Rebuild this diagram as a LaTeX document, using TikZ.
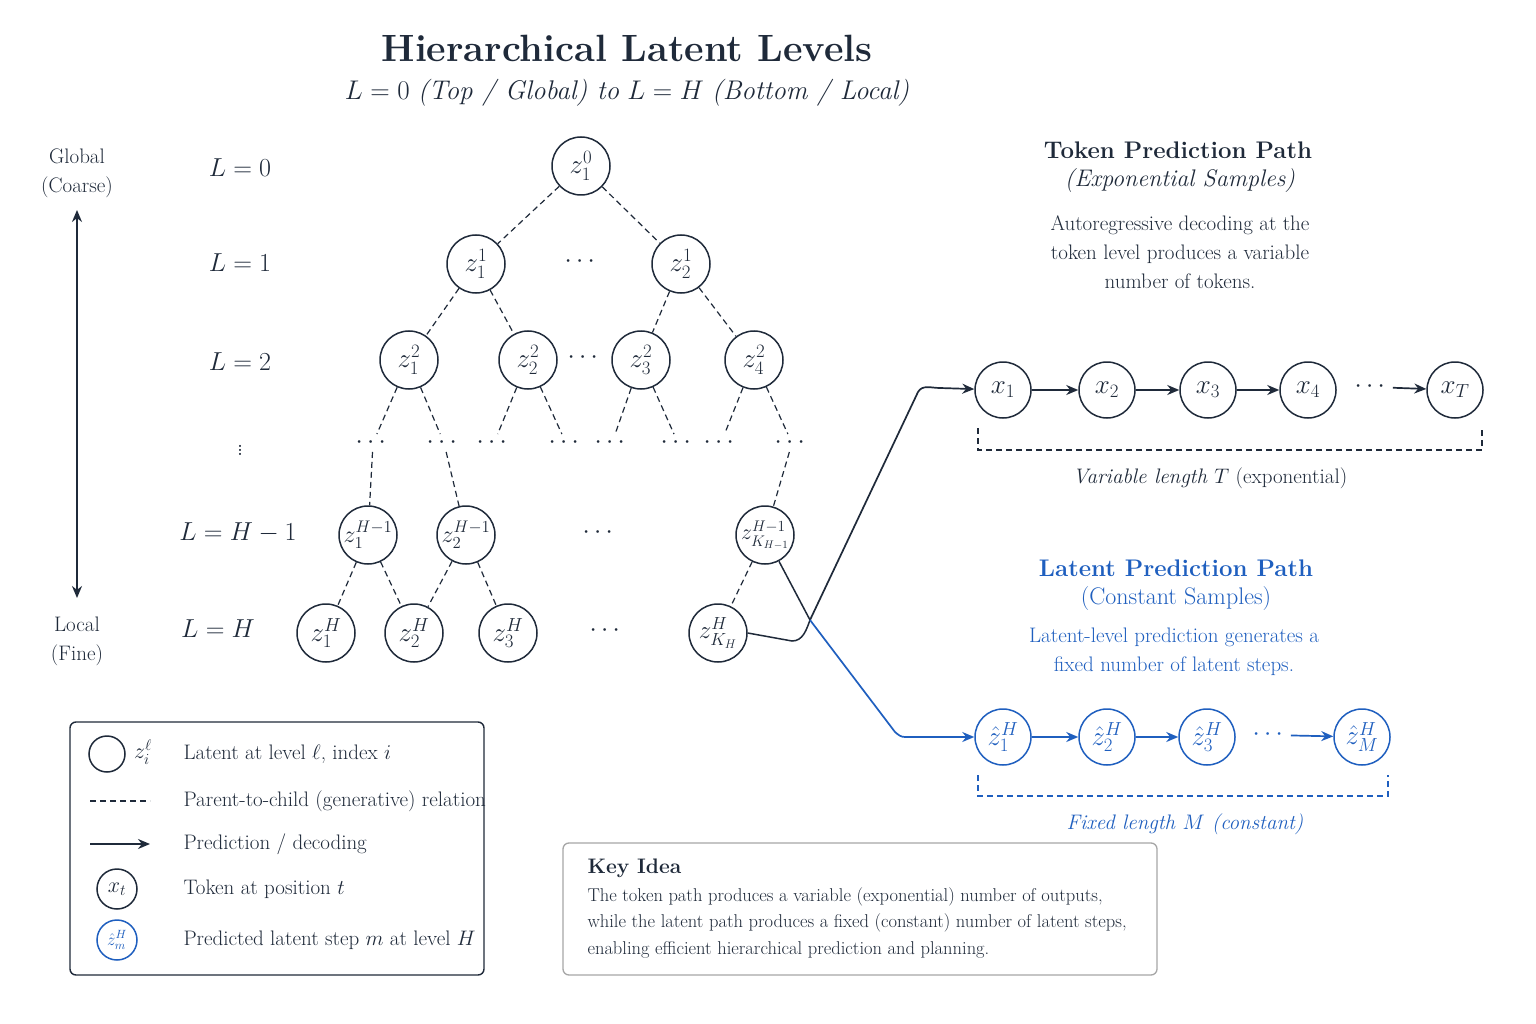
\RequirePackage{fix-cm}
\documentclass[tikz,border=0pt]{standalone}
\usepackage{amsmath}
\usetikzlibrary{arrows.meta,calc}
\definecolor{ink}{HTML}{1F2A3A}
\definecolor{blu}{HTML}{1F5FBF}
\begin{document}
\begin{tikzpicture}[x=1pt,y=-1pt,
  every node/.style={text=ink},
  lat/.style={circle,draw=ink,line width=1.5pt,minimum size=58pt,inner sep=0pt,font=\fontsize{27}{29}\selectfont},
  tok/.style={lat,minimum size=56pt},
  hat/.style={lat,draw=blu,text=blu,minimum size=56pt},
  dt/.style={font=\fontsize{26}{28}\selectfont},
  par/.style={draw=ink,dashed,line width=1.2pt,dash pattern=on 6pt off 4pt},
  arr/.style={draw=ink,line width=1.7pt,-{Stealth[length=12pt,width=10pt]}},
  barr/.style={arr,draw=blu},
  txt/.style={font=\fontsize{21}{29}\selectfont,align=center},
  lvl/.style={font=\fontsize{26}{28}\selectfont}]
\useasboundingbox (0,0) rectangle (1536,1024);
\fill[white] (0,0) rectangle (1536,1024);
% title
\node[font=\fontsize{38}{42}\selectfont\bfseries] (title) at (627,48) {Hierarchical Latent Levels};
\node[font=\fontsize{27}{30}\selectfont] (sub) at (627,93) {$L=0$ \textit{(Top / Global) to} $L=H$ \textit{(Bottom / Local)}};
% side
\node[txt] (glob) at (77,173) {Global\\(Coarse)};
\node[txt] (loc) at (77,641) {Local\\(Fine)};
\coordinate (at) at (77,210); \coordinate (ab) at (77,598);
\draw[ink,line width=1.7pt,{Stealth[length=12pt,width=10pt]}-{Stealth[length=12pt,width=10pt]}] (at) -- (ab);
\node[lvl] (l0) at (240,168) {$L=0$};
\node[lvl] (l1) at (240,263) {$L=1$};
\node[lvl] (l2) at (240,362) {$L=2$};
\node[lvl,inner sep=0pt] (lv) at (240,447) {$\vdots$};
\node[lvl] (l3) at (238,533) {$L=H-1$};
\node[lvl] (l4) at (218,629) {$L=H$};
% tree
\node[lat] (r) at (581,166) {$z^{0}_{1}$};
\node[lat] (a1) at (476,264) {$z^{1}_{1}$};
\node[lat] (a2) at (681,264) {$z^{1}_{2}$};
\node[dt] (ad) at (582,262) {$\cdots$};
\node[lat] (b1) at (409,360) {$z^{2}_{1}$};
\node[lat] (b2) at (528,360) {$z^{2}_{2}$};
\node[lat] (b3) at (641,360) {$z^{2}_{3}$};
\node[lat] (b4) at (754,360) {$z^{2}_{4}$};
\node[dt] (bd) at (585,358) {$\cdots$};
\foreach \i/\x in {1/373,2/444,3/494,4/566,5/612,6/678,7/721,8/792}
  \node[dt,inner sep=3pt] (d\i) at (\x,443) {$\cdots$};
\node[lat,font=\fontsize{24}{26}\selectfont] (c1) at (368,535) {$z^{H-1}_{1}$};
\node[lat,font=\fontsize{24}{26}\selectfont] (c2) at (466,535) {$z^{H-1}_{2}$};
\node[lat,font=\fontsize{22}{24}\selectfont] (c3) at (765,535) {$z^{H-1}_{K_{H-1}}$};
\node[dt] (cd) at (600,533) {$\cdots$};
\node[lat] (e1) at (326,633) {$z^{H}_{1}$};
\node[lat] (e2) at (414,633) {$z^{H}_{2}$};
\node[lat] (e3) at (508,633) {$z^{H}_{3}$};
\node[lat,font=\fontsize{25}{27}\selectfont] (e4) at (718,633) {$z^{H}_{K_H}$};
\node[dt] (ed) at (607,631) {$\cdots$};
\draw[par] (r)--(a1); \draw[par] (r)--(a2);
\draw[par] (a1)--(b1); \draw[par] (a1)--(b2);
\draw[par] (a2)--(b3); \draw[par] (a2)--(b4);
\draw[par] (b1)--(d1); \draw[par] (b1)--(d2);
\draw[par] (b2)--(d3); \draw[par] (b2)--(d4);
\draw[par] (b3)--(d5); \draw[par] (b3)--(d6);
\draw[par] (b4)--(d7); \draw[par] (b4)--(d8);
\draw[par] (d1)--(c1); \draw[par] (d2)--(c2); \draw[par] (d8)--(c3);
\draw[par] (c1)--(e1); \draw[par] (c1)--(e2);
\draw[par] (c2)--(e2); \draw[par] (c2)--(e3);
\draw[par] (c3)--(e4);
% token path
\node[font=\fontsize{24}{26}\selectfont\bfseries] (tt) at (1178,150) {Token Prediction Path};
\node[font=\fontsize{24}{26}\selectfont\itshape] (ts) at (1180,181) {(Exponential Samples)};
\node[txt] (td) at (1180,252) {Autoregressive decoding at the\\token level produces a variable\\number of tokens.};
\node[tok] (x1) at (1003,390) {$x_1$};
\node[tok] (x2) at (1107,390) {$x_2$};
\node[tok] (x3) at (1208,390) {$x_3$};
\node[tok] (x4) at (1308,390) {$x_4$};
\node[dt] (xd) at (1372,387) {$\cdots$};
\node[tok] (xT) at (1455,390) {$x_T$};
\draw[arr] (x1)--(x2); \draw[arr] (x2)--(x3); \draw[arr] (x3)--(x4); \draw[arr] (xd)--(xT);
\draw[par] (978,428)--(978,450)--(1482,450)--(1482,428);
\node[txt] (tl) at (1210,478) {\textit{Variable length $T$} (exponential)};
% latent path
\node[font=\fontsize{24}{26}\selectfont\bfseries,text=blu] (lt) at (1176,568) {Latent Prediction Path};
\node[font=\fontsize{24}{26}\selectfont,text=blu] (ls) at (1176,599) {(Constant Samples)};
\node[txt,text=blu] (ld) at (1174,652) {Latent-level prediction generates a\\fixed number of latent steps.};
\node[hat] (h1) at (1003,737) {$\hat z^{H}_{1}$};
\node[hat] (h2) at (1107,737) {$\hat z^{H}_{2}$};
\node[hat] (h3) at (1207,737) {$\hat z^{H}_{3}$};
\node[dt,text=blu] (hd) at (1270,735) {$\cdots$};
\node[hat] (hM) at (1362,737) {$\hat z^{H}_{M}$};
\draw[barr] (h1)--(h2); \draw[barr] (h2)--(h3); \draw[barr] (hd)--(hM);
\draw[par,draw=blu] (978,775)--(978,796)--(1388,796)--(1388,775);
\node[txt,text=blu] (hl) at (1185,824) {\textit{Fixed length $M$ (constant)}};
% connections
\coordinate (j) at (810,620);
\draw[ink,line width=1.5pt] (c3.-62) -- (j);
\draw[ink,line width=1.5pt] (e4.east) -- (792,641) to[out=0,in=-110] (j);
\draw[arr] (j) -- (918,392) to[out=60,in=180] (940,388) -- (x1);
\draw[barr] (j) -- (895,732) to[out=-40,in=180] (905,737) -- (h1);
% legend
\draw[ink,line width=1.4pt,rounded corners=6pt] (70,722) rectangle (484,975);
\node[lat,minimum size=36pt] (g1) at (107,754) {};
\node[dt,font=\fontsize{22}{24}\selectfont] (g1t) at (143,752) {$z_i^{\ell}$};
\node[txt,anchor=west] (g1l) at (180,754) {Latent at level $\ell$, index $i$};
\coordinate (g2a) at (90,801); \coordinate (g2b) at (150,801);
\draw[par] (g2a)--(g2b);
\node[txt,anchor=west] (g2l) at (180,801) {Parent-to-child (generative) relation};
\coordinate (g3a) at (90,844); \coordinate (g3b) at (150,844);
\draw[arr] (g3a)--(g3b);
\node[txt,anchor=west] (g3l) at (180,844) {Prediction / decoding};
\node[tok,minimum size=40pt,font=\fontsize{22}{24}\selectfont] (g4) at (117,889) {$x_t$};
\node[txt,anchor=west] (g4l) at (180,889) {Token at position $t$};
\node[hat,minimum size=40pt,font=\fontsize{17}{19}\selectfont] (g5) at (117,940) {$\hat z^{H}_{m}$};
\node[txt,anchor=west] (g5l) at (180,940) {Predicted latent step $m$ at level $H$};
% key idea
\draw[gray!70,line width=1.3pt,rounded corners=6pt] (563,843) rectangle (1157,975);
\node[font=\fontsize{21}{23}\selectfont\bfseries,anchor=west] (ki) at (584,868) {Key Idea};
\node[font=\fontsize{18.5}{26.5}\selectfont,align=left,anchor=north west] (kt) at (584,884) {The token path produces a variable (exponential) number of outputs,\\while the latent path produces a fixed (constant) number of latent steps,\\enabling efficient hierarchical prediction and planning.};
\end{tikzpicture}
\end{document}
